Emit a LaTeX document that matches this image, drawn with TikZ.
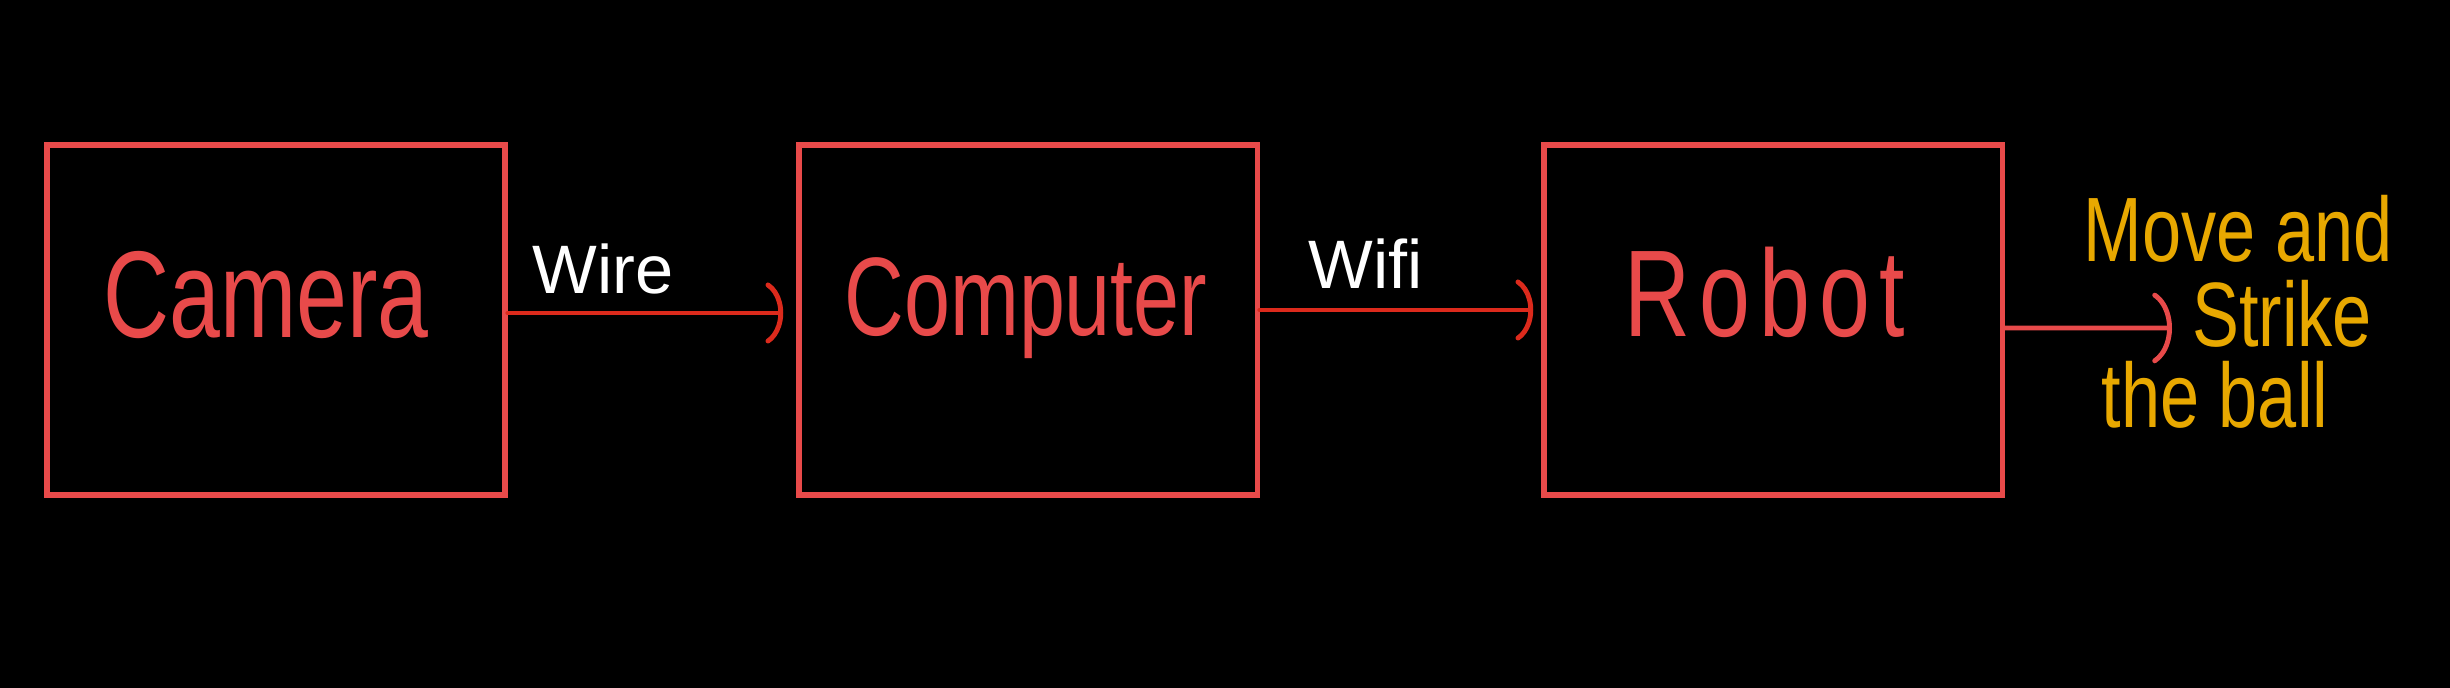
\documentclass[tikz,border=0pt]{standalone}
\usepackage{fontspec}
\setmainfont{Liberation Sans}
\usetikzlibrary{arrows.meta}
\definecolor{boxred}{HTML}{E84A4A}
\definecolor{wirered}{HTML}{DC2A1C}
\definecolor{gold}{HTML}{E8A800}
\begin{document}
\begin{tikzpicture}[x=0.01cm,y=-0.01cm,
  block/.style={draw=boxred, line width=1.5pt, minimum width=4.58cm, minimum height=3.5cm, inner sep=0pt},
  boxtext/.style={text=boxred, inner sep=0pt, anchor=base, font=\fontsize{26pt}{30pt}\selectfont},
  linktext/.style={text=white, inner sep=0pt, anchor=base, font=\fontsize{19.5pt}{23pt}\selectfont},
  goldtext/.style={text=gold, inner sep=0pt, anchor=base, font=\fontsize{20pt}{24pt}\selectfont},
  conn/.style={draw=wirered, line width=1.4pt, line cap=round, -{Arc Barb[arc=130,length=7pt,width=19pt,round]}},
  outconn/.style={draw=boxred, line width=1.4pt, line cap=round, -{Arc Barb[arc=130,length=8pt,width=22pt,round]}}]
\fill[black] (0,0) rectangle (2450,688);
\useasboundingbox (0,0) rectangle (2450,688);
% boxes
\node[block] (camera) at (276,320) {};
\node[block] (computer) at (1028,320) {};
\node[block] (robot) at (1773,320) {};
% box labels
\node[boxtext] (cameralabel) at (266,338) {\scalebox{1}[1.35]{Camera}};
\node[boxtext] (computerlabel) at (1026,336) {\fontsize{23.5pt}{28pt}\selectfont\scalebox{1}[1.35]{Computer}};
\node[boxtext] (robotlabel) at (1765,337) {\scalebox{1}[1.35]{\addfontfeature{LetterSpace=10}Robot}};
% connectors
\draw[conn, shorten >=0.13cm] ([yshift=0.07cm]camera.east) -- ([yshift=0.07cm]computer.west);
\draw[conn, shorten >=0.08cm] ([yshift=0.1cm]computer.east) -- ([yshift=0.1cm]robot.west);
\coordinate (outend) at (2172,328);
\draw[outconn] ([yshift=-0.08cm]robot.east) -- (outend);
% link labels
\node[linktext] (wirelabel) at (603,294) {Wire};
\node[linktext] (wifilabel) at (1366,288) {Wifi};
% outcome text
\node[goldtext] (line1) at (2238,262) {\scalebox{1}[1.3]{Move and}};
\node[goldtext] (line2) at (2282,347) {\scalebox{1}[1.3]{Strike}};
\node[goldtext] (line3) at (2215,427) {\scalebox{1}[1.3]{the ball}};
\end{tikzpicture}
\end{document}
